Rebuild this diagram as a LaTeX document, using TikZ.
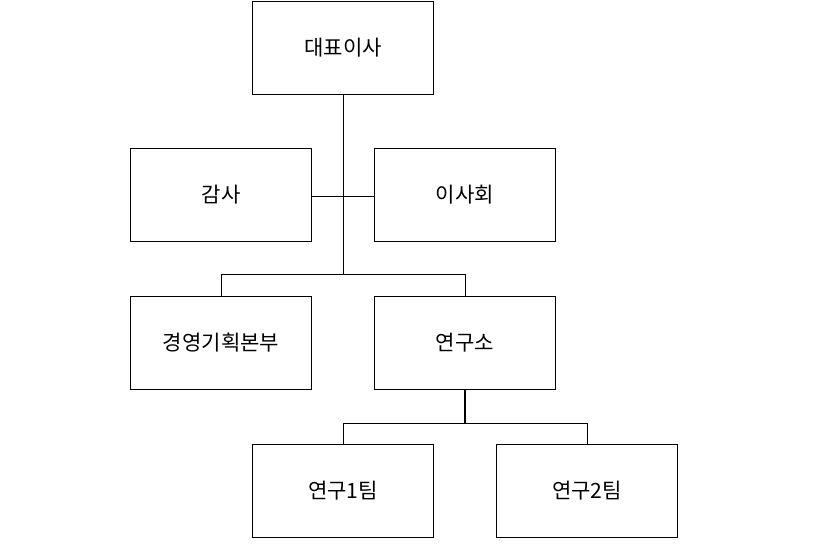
\documentclass[tikz,border=0pt]{standalone}
\usepackage{fontspec}
\setmainfont{Noto Sans CJK KR}
\begin{document}
\begin{tikzpicture}[x=0.02cm,y=-0.02cm,every node/.style={draw,rectangle,minimum width=3.62cm,minimum height=1.86cm,inner sep=0pt,font=\large}]
\useasboundingbox (0,0) rectangle (825,549);
\node (ceo) at (343,47.5){대표이사};
\node (audit) at (221,195){감사};
\node (board) at (465,195){이사회};
\node (plan) at (221,343){경영기획본부};
\node (lab) at (465,343){연구소};
\node (team1) at (343,491){연구1팀};
\node (team2) at (587,491){연구2팀};

\coordinate (j1) at (343,196);
\coordinate (j2) at (343,274);
\coordinate (j3) at (465,423);

\draw (ceo) -- (j2);
\draw (audit.east |- j1) -- (board.west |- j1);
\draw (j2) -- (plan.north |- j2) -- (plan.north);
\draw (j2) -- (lab.north |- j2) -- (lab.north);
\draw[line width=0.8pt] (lab) -- (j3);
\draw (j3) -- (team1.north |- j3) -- (team1.north);
\draw (j3) -- (team2.north |- j3) -- (team2.north);
\end{tikzpicture}
\end{document}
